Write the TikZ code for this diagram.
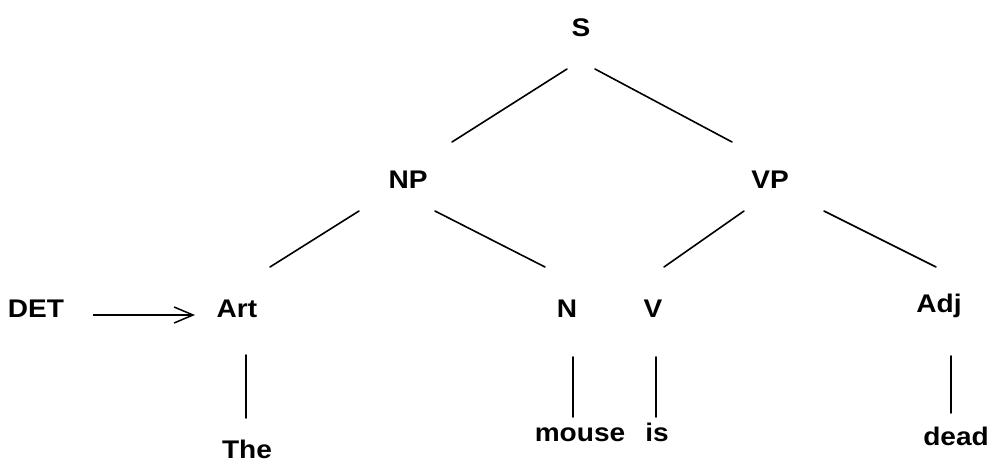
\documentclass[tikz,border=0pt]{standalone}
\usepackage{fontspec}
\setmainfont{Liberation Sans}[FakeStretch=1.1]
\usetikzlibrary{arrows.meta}
\begin{document}
\begin{tikzpicture}[x=1pt,y=-1pt,
  lbl/.style={anchor=base,inner sep=0pt,font=\fontsize{25.5}{30}\selectfont\bfseries},
  branch/.style={line width=1.6pt,line cap=round},
  pointer/.style={line width=1.5pt,-{Straight Barb[length=19pt,width=16pt,line width=1.5pt]}}]
\useasboundingbox (0,0) rectangle (993,463);
% category labels
\node[lbl] (S)   at (581,36)  {S};
\node[lbl] (NP)  at (408,188) {NP};
\node[lbl] (VP)  at (770,188) {VP};
\node[lbl] (DET) at (36,317)  {DET};
\node[lbl] (Art) at (237,317) {Art};
\node[lbl] (N)   at (567,317) {N};
\node[lbl] (V)   at (653,317) {V};
\node[lbl] (Adj) at (939,312) {Adj};
% words
\node[lbl] (The)   at (247,458) {The};
\node[lbl] (mouse) at (580,441) {mouse};
\node[lbl] (is)    at (657,441) {is};
\node[lbl] (dead)  at (956,445) {dead};
% tree branches
\draw[branch] ([shift={(-14,33)}]S.base) -- ([shift={(44,-46)}]NP.base);
\draw[branch] ([shift={(14,33)}]S.base) -- ([shift={(-38,-46)}]VP.base);
\draw[branch] ([shift={(-49,23)}]NP.base) -- ([shift={(33,-50)}]Art.base);
\draw[branch] ([shift={(27,23)}]NP.base) -- ([shift={(-22,-50)}]N.base);
\draw[branch] ([shift={(-26,23)}]VP.base) -- ([shift={(11,-50)}]V.base);
\draw[branch] ([shift={(54,23)}]VP.base) -- ([shift={(-3,-45)}]Adj.base);
\draw[branch] ([shift={(9,38)}]Art.base) -- ([shift={(-1,-40)}]The.base);
\draw[branch] ([shift={(6,40)}]N.base) -- ([shift={(-7,-24)}]mouse.base);
\draw[branch] ([shift={(3,40)}]V.base) -- ([shift={(-1,-24)}]is.base);
\draw[branch] ([shift={(12,44)}]Adj.base) -- ([shift={(-5,-32)}]dead.base);
% DET points to Art
\draw[pointer] ([shift={(57,-2)}]DET.base) -- ([shift={(-42,-2)}]Art.base);
\end{tikzpicture}
\end{document}
